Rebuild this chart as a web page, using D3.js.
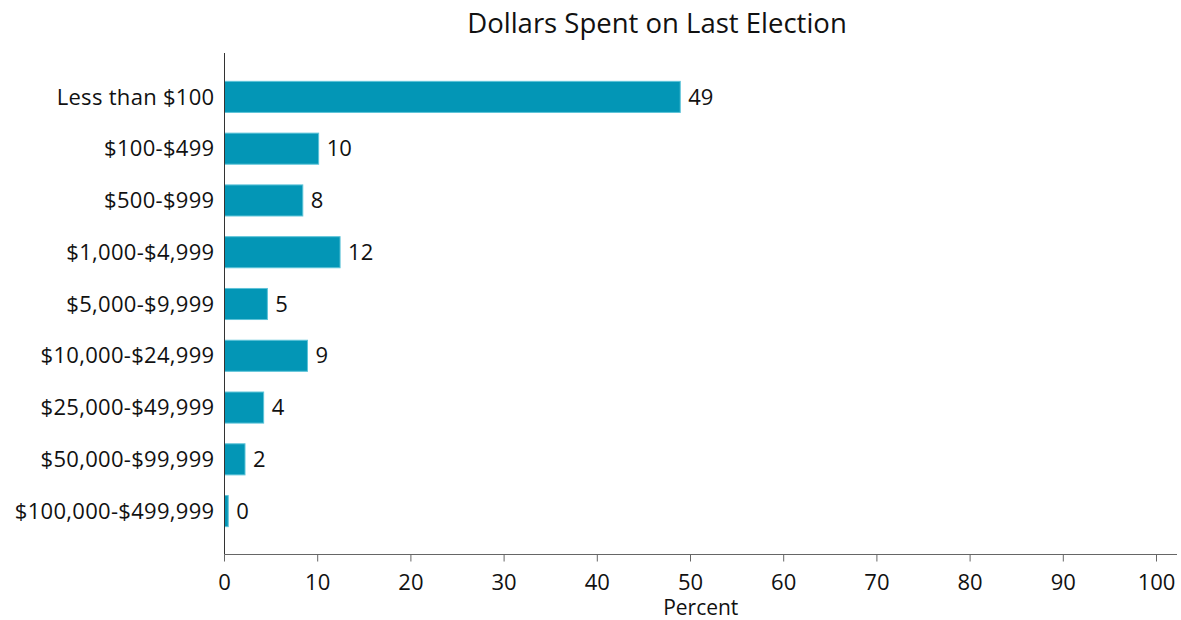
<!DOCTYPE html>
<html>
<head>
<meta charset="utf-8">
<script src="https://cdn.jsdelivr.net/npm/d3@7"></script>
<style>
  html, body { margin: 0; padding: 0; background: #fff; }
  svg text { font-family: "Open Sans", "Noto Sans", sans-serif; fill: #111; }
</style>
</head>
<body>
<svg id="chart" width="1181" height="620"></svg>
<script>
// Spending brackets and the share of respondents in each (percent)
const categories = [
  "Less than $100", "$100-$499", "$500-$999", "$1,000-$4,999",
  "$5,000-$9,999", "$10,000-$24,999", "$25,000-$49,999",
  "$50,000-$99,999", "$100,000-$499,999"
];
const percents = [48.9, 10.1, 8.4, 12.4, 4.6, 8.9, 4.2, 2.2, 0.4];
const xTicks = [0, 10, 20, 30, 40, 50, 60, 70, 80, 90, 100];

const svg = d3.select("#chart");
const plotLeft = 224.5, plotRight = 1177, plotTop = 71, plotBottom = 537;
const axisY = 554.5;
const labelSize = "22px";

const x = d3.scaleLinear().domain([0, 100]).range([plotLeft, plotLeft + 932]);
const y = d3.scaleBand().domain(categories).range([plotTop, plotBottom]).paddingInner(0.4).paddingOuter(0.2);

// Title
svg.append("text")
  .attr("x", 657).attr("y", 33)
  .attr("text-anchor", "middle")
  .style("font-size", "27.5px")
  .text("Dollars Spent on Last Election");

// Bars
svg.selectAll("rect.bar").data(percents).enter().append("rect")
  .attr("class", "bar")
  .attr("x", x(0))
  .attr("y", (d, i) => y(categories[i]))
  .attr("width", d => x(d) - x(0))
  .attr("height", y.bandwidth())
  .attr("fill", "#0396b6")
  .attr("stroke", "#5cc3d8")
  .attr("stroke-width", 1);

// Value labels
svg.selectAll("text.val").data(percents).enter().append("text")
  .attr("class", "val")
  .attr("x", d => x(d) + 8)
  .attr("y", (d, i) => y(categories[i]) + y.bandwidth() / 2)
  .attr("dy", "0.35em")
  .style("font-size", labelSize)
  .text(d => d3.format(".0f")(d));

// Category axis
svg.append("line")
  .attr("x1", plotLeft).attr("x2", plotLeft)
  .attr("y1", 53).attr("y2", axisY)
  .attr("stroke", "#333").attr("stroke-width", 1);
svg.selectAll("text.cat").data(categories).enter().append("text")
  .attr("class", "cat")
  .attr("x", plotLeft - 10)
  .attr("y", d => y(d) + y.bandwidth() / 2)
  .attr("dy", "0.35em")
  .attr("text-anchor", "end")
  .style("font-size", labelSize)
  .style("letter-spacing", "0.3px")
  .text(d => d);

// Value axis
svg.append("line")
  .attr("x1", plotLeft).attr("x2", plotRight)
  .attr("y1", axisY).attr("y2", axisY)
  .attr("stroke", "#666").attr("stroke-width", 1);
const xt = svg.selectAll("g.xt").data(xTicks).enter().append("g")
  .attr("class", "xt")
  .attr("transform", d => `translate(${x(d)},${axisY})`);
xt.append("line").attr("y1", 0).attr("y2", 7).attr("stroke", "#666");
xt.append("text")
  .attr("y", 28).attr("dy", "0.35em")
  .attr("text-anchor", "middle")
  .style("font-size", labelSize)
  .text(d => d);

svg.append("text")
  .attr("x", (plotLeft + plotRight) / 2).attr("y", 608).attr("dy", "0.35em")
  .attr("text-anchor", "middle")
  .style("font-size", "21px")
  .text("Percent");
</script>
</body>
</html>
